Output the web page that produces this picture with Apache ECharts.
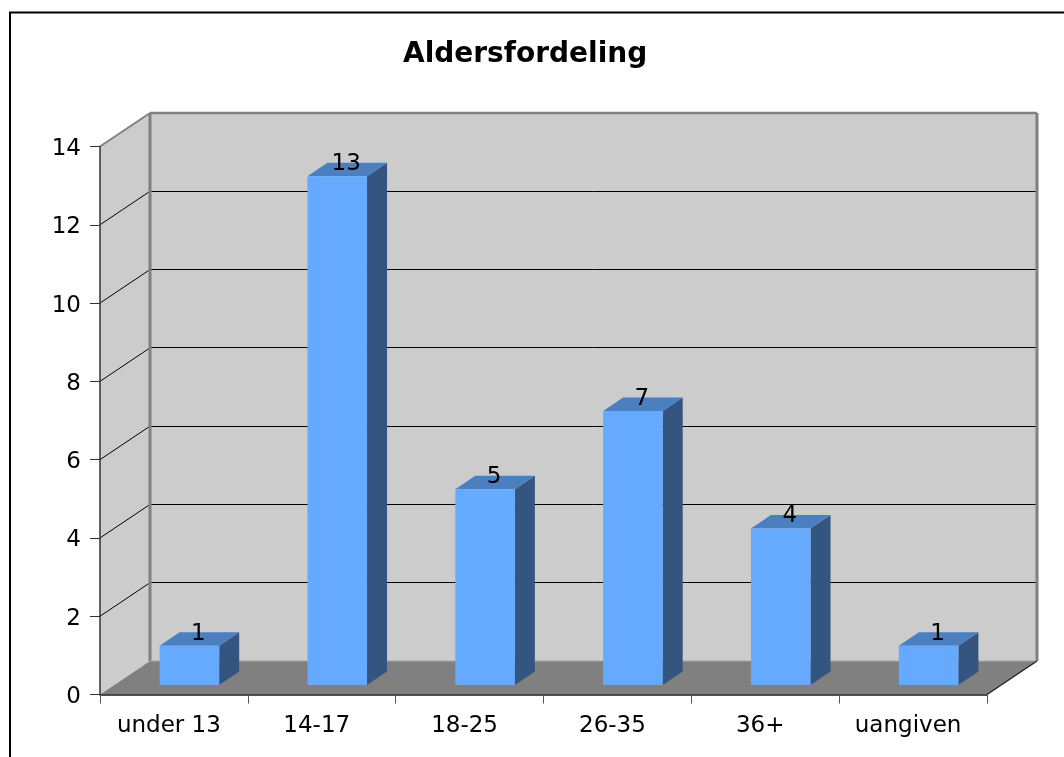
<!DOCTYPE html>
<html>
<head>
<meta charset="utf-8">
<style>html,body{margin:0;padding:0;background:#fff}#c{width:1064px;height:757px}</style>
<script src="https://cdn.jsdelivr.net/npm/echarts@6/dist/echarts.min.js"></script>
</head>
<body>
<div id="c"></div>
<script>
var titleText = 'Aldersfordeling';
var categories = ['under 13', '14-17', '18-25', '26-35', '36+', 'uangiven'];
var counts = [1, 13, 5, 7, 4, 1];
var gridValues = [2, 4, 6, 8, 10, 12];

var FONT = '"DejaVu Sans", Verdana, sans-serif';
var WALL_DX = 50, WALL_DY = 33.5;
var BAR_DX = 20, BAR_DY = 13.5;
var INSET_DX = 15.5, INSET_DY = 9.5;
var BAR_RATIO = 0.403;

function poly(pts, fill, z2) {
  return {type: 'polygon', z2: z2 || 0, shape: {points: pts}, style: {fill: fill, stroke: null}};
}
function seg(x1, y1, x2, y2, color, w, z2) {
  return {type: 'line', z2: z2 || 1, shape: {x1: x1, y1: y1, x2: x2, y2: y2},
    style: {stroke: color, lineWidth: w, fill: null}};
}
function crisp(y) { return Math.round(y - 0.5) + 0.5; }

function renderBackdrop(params, api) {
  var cs = params.coordSys;
  var l = cs.x, r = cs.x + cs.width, t = cs.y, b = cs.y + cs.height;
  var d = WALL_DX, e = WALL_DY;
  var kids = [
    poly([[l + d, t - e], [r + d, t - e], [r + d, b - e], [l + d, b - e]], '#cccccc'),
    poly([[l, t], [l + d, t - e], [l + d, b - e], [l, b]], '#cccccc'),
    poly([[l, b], [r, b], [r + d, b - e], [l + d, b - e]], '#808080')
  ];
  gridValues.forEach(function (v) {
    var y = api.coord([0, v])[1];
    kids.push(seg(l, y, l + d, y - e, '#000', 1, 1));
    kids.push(seg(l + d, crisp(y - e), r + d, crisp(y - e), '#000', 1, 1));
  });
  kids.push(seg(l, t, l + d, t - e, '#808080', 2, 2));
  kids.push(seg(l + d, t - e, r + d, t - e, '#808080', 2.5, 2));
  kids.push(seg(l + d, t - e, l + d, b - e, '#808080', 3, 2));
  kids.push(seg(r + d, t - e, r + d, b - e, '#808080', 3, 2));
  kids.push(seg(l + d, b - e, r + d, b - e, '#a6a6a6', 1, 2));
  kids.push(seg(r, b, r + d, b - e, '#1a1a1a', 1.2, 2));
  return {type: 'group', children: kids};
}

function renderBar(params, api) {
  var idx = api.value(0), val = api.value(1);
  var band = api.size([1, 0])[0];
  var w = band * BAR_RATIO;
  var top = api.coord([idx, val]);
  var base = api.coord([idx, 0]);
  var x0 = top[0] - w / 2 + INSET_DX, x1 = x0 + w;
  var y0 = top[1] - INSET_DY, y1 = base[1] - INSET_DY;
  return {type: 'group', children: [
    poly([[x1, y0], [x1 + BAR_DX, y0 - BAR_DY], [x1 + BAR_DX, y1 - BAR_DY], [x1, y1]], '#335580', 3),
    poly([[x0, y0], [x0 + BAR_DX, y0 - BAR_DY], [x1 + BAR_DX, y0 - BAR_DY], [x1, y0]], '#4c7fbf', 3),
    poly([[x0, y0], [x1, y0], [x1, y1], [x0, y1]], '#66aaff', 4),
    {type: 'text', z2: 5, style: {x: (x0 + x1) / 2 + 9, y: y0 - 12, text: String(val),
      fill: '#000', font: '23px ' + FONT, align: 'center', verticalAlign: 'middle'}}
  ]};
}

var chart = echarts.init(document.getElementById('c'), null, {renderer: 'canvas'});
chart.setOption({
  animation: false,
  backgroundColor: '#ffffff',
  title: {
    text: titleText, left: 398, top: 36,
    textStyle: {fontFamily: FONT, fontSize: 28, fontWeight: 'bold', color: '#000'}
  },
  grid: {left: 100, top: 146.5, width: 887, height: 548, containLabel: false},
  xAxis: {
    type: 'category', data: categories, boundaryGap: true, z: 5,
    axisLine: {show: true, lineStyle: {color: '#1a1a1a', width: 1.5}},
    axisTick: {show: true, alignWithLabel: false, length: 9, lineStyle: {color: '#555', width: 1}},
    axisLabel: {interval: 0, margin: 20, padding: [0, 10, 0, 0], fontFamily: FONT, fontSize: 23, color: '#000'},
    splitLine: {show: false}
  },
  yAxis: {
    type: 'value', min: 0, max: 14, interval: 2, z: 5,
    axisLine: {show: true, lineStyle: {color: '#333', width: 1.5}},
    axisTick: {show: true, length: 10, lineStyle: {color: '#333', width: 1}},
    axisLabel: {margin: 19, verticalAlign: 'top', lineHeight: 5, fontFamily: FONT, fontSize: 23, color: '#000'},
    splitLine: {show: false}
  },
  graphic: [{
    type: 'polyline', silent: true, z: -1,
    shape: {points: [[10, 757], [10, 12.5], [1064, 12.5]]},
    style: {stroke: '#000', lineWidth: 2, fill: null}
  }],
  series: [
    {type: 'custom', coordinateSystem: 'cartesian2d', clip: false, z: 1, silent: true,
     renderItem: renderBackdrop, data: [[0, 0]], encode: {x: 0, y: 1}},
    {type: 'custom', coordinateSystem: 'cartesian2d', clip: false, z: 2, silent: true,
     renderItem: renderBar,
     data: counts.map(function (v, i) { return [i, v]; }), encode: {x: 0, y: 1}}
  ]
});
</script>
</body>
</html>
